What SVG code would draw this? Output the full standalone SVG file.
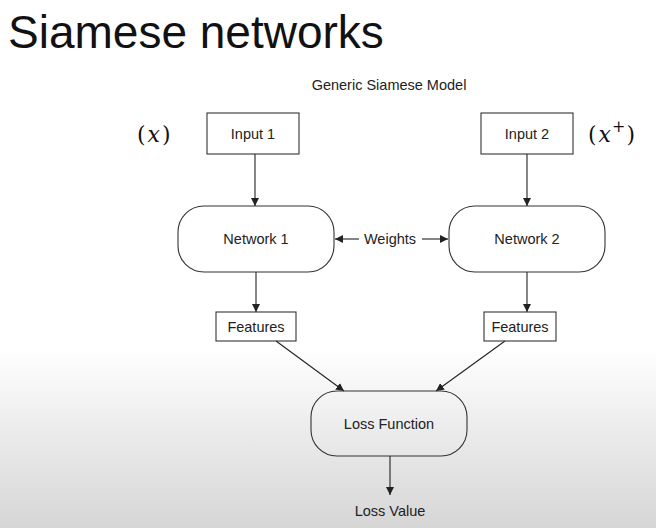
<svg xmlns="http://www.w3.org/2000/svg" width="656" height="528" viewBox="0 0 656 528">
  <defs>
    <linearGradient id="bg" x1="0" y1="0" x2="0" y2="528" gradientUnits="userSpaceOnUse">
      <stop offset="0" stop-color="#ffffff"/>
      <stop offset="0.66" stop-color="#ffffff"/>
      <stop offset="0.82" stop-color="#ebebeb"/>
      <stop offset="1" stop-color="#d6d6d6"/>
    </linearGradient>
    <marker id="arrow" viewBox="0 0 10 10" refX="10" refY="5" markerWidth="8" markerHeight="8" markerUnits="userSpaceOnUse" orient="auto-start-reverse">
      <path d="M0,0 L10,5 L0,10 z" fill="#222"/>
    </marker>
    <style>
      .box { fill: none; stroke: #333; stroke-width: 1.1; }
      .lbl { font-family: "Liberation Sans", Arial, sans-serif; font-size: 14.5px; fill: #222; text-anchor: middle; }
      .edge { fill: none; stroke: #222; stroke-width: 1.1; marker-end: url(#arrow); }
      .math { font-family: "DejaVu Serif", "Liberation Serif", serif; font-size: 22px; fill: #111; }
      .var { font-style: italic; }
    </style>
  </defs>

  <rect width="656" height="528" fill="url(#bg)"/>

  <text x="8" y="48" font-family="Liberation Sans, Arial, sans-serif" font-size="46" fill="#111">Siamese networks</text>
  <text class="lbl" x="389" y="90" font-size="13.5">Generic Siamese Model</text>

  <!-- input variable annotations -->
  <text class="math" x="137" y="142">(<tspan class="var" dx="2">x</tspan><tspan dx="2">)</tspan></text>
  <text class="math" x="588" y="142">(<tspan class="var" dx="2">x</tspan><tspan font-size="16" dx="1" dy="-10">+</tspan><tspan dx="1" dy="10">)</tspan></text>

  <g id="connectors">
    <line class="edge" x1="255" y1="154" x2="255" y2="206"/>
    <line class="edge" x1="527" y1="154" x2="527" y2="206"/>
    <line class="edge" x1="359" y1="239" x2="335" y2="239"/>
    <line class="edge" x1="422" y1="239" x2="448" y2="239"/>
    <line class="edge" x1="256" y1="272" x2="256" y2="312"/>
    <line class="edge" x1="527" y1="272" x2="527" y2="312"/>
    <line class="edge" x1="276" y1="341" x2="344" y2="391"/>
    <line class="edge" x1="505" y1="341" x2="436" y2="391"/>
    <line class="edge" x1="390" y1="456" x2="390" y2="495"/>
  </g>

  <g id="input1">
    <rect class="box" x="207" y="113" width="92" height="41"/>
    <text class="lbl" x="253" y="139">Input 1</text>
  </g>
  <g id="input2">
    <rect class="box" x="481" y="113" width="92" height="41"/>
    <text class="lbl" x="527" y="139">Input 2</text>
  </g>
  <g id="network1">
    <rect class="box" x="178" y="206" width="156" height="66" rx="26"/>
    <text class="lbl" x="256" y="244">Network 1</text>
  </g>
  <g id="weights">
    <text class="lbl" x="390" y="244">Weights</text>
  </g>
  <g id="network2">
    <rect class="box" x="449" y="206" width="156" height="66" rx="26"/>
    <text class="lbl" x="527" y="244">Network 2</text>
  </g>
  <g id="features1">
    <rect class="box" x="216" y="312" width="80" height="29"/>
    <text class="lbl" x="256" y="332">Features</text>
  </g>
  <g id="features2">
    <rect class="box" x="484" y="312" width="72" height="29"/>
    <text class="lbl" x="520" y="332">Features</text>
  </g>
  <g id="loss">
    <rect class="box" x="311" y="391" width="156" height="65" rx="26"/>
    <text class="lbl" x="389" y="429">Loss Function</text>
  </g>
  <g id="lossvalue">
    <text class="lbl" x="390" y="516">Loss Value</text>
  </g>
</svg>
